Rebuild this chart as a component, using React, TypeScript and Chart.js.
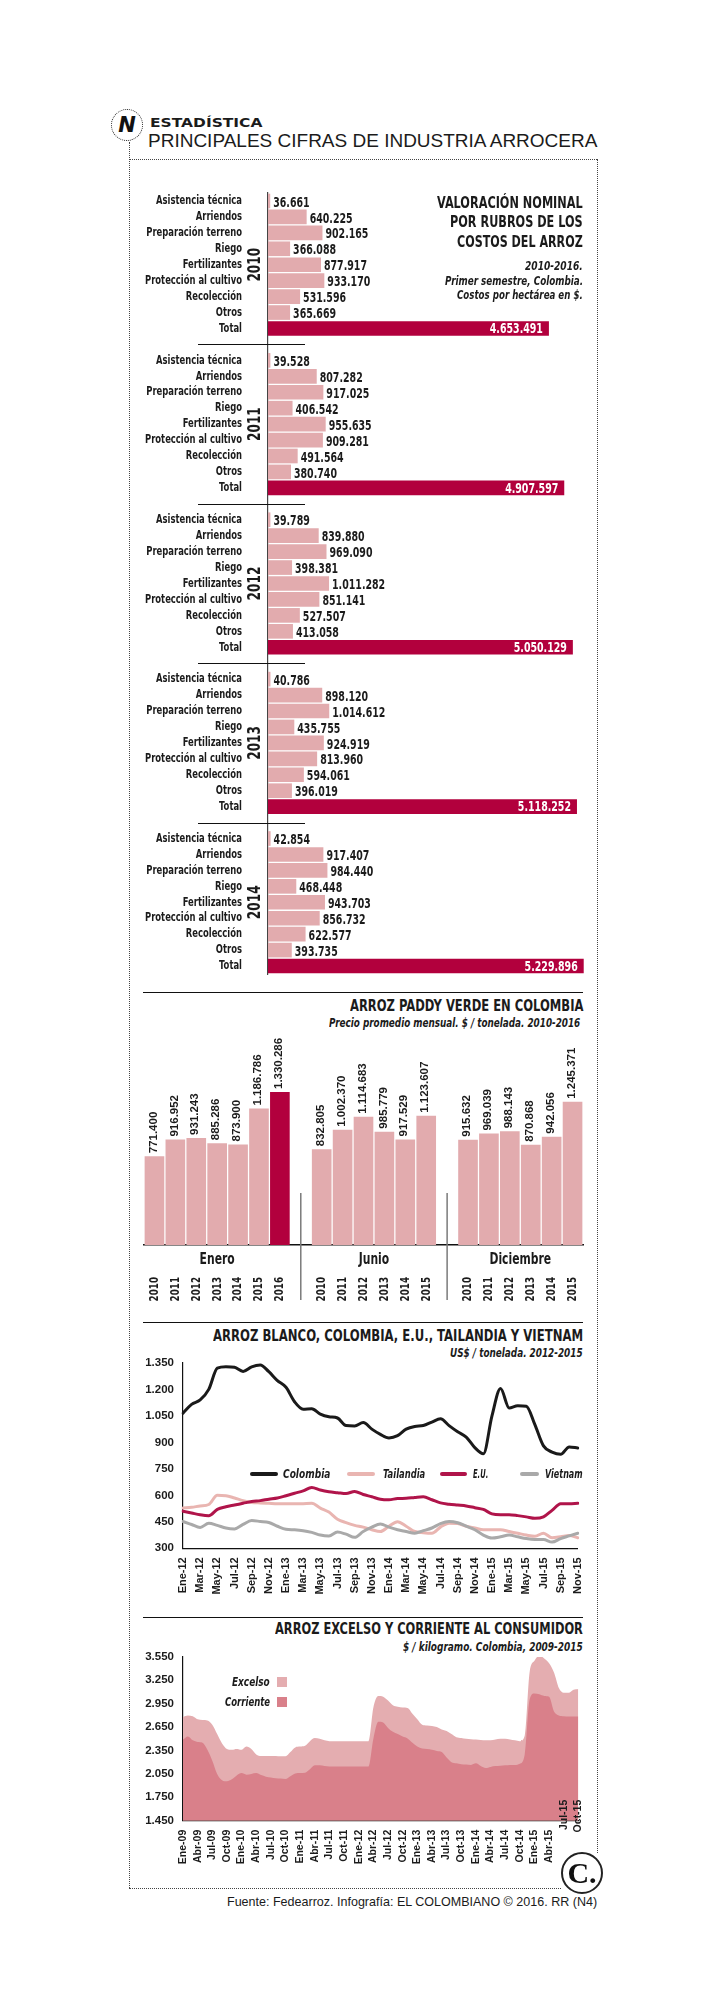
import React, { useEffect, useLayoutEffect, useRef } from 'react';
import { Chart, registerables } from 'chart.js';

Chart.register(...registerables);

const NARROW = "'Liberation Sans Narrow', 'Arial Narrow', 'DejaVu Sans Condensed', 'Liberation Sans', sans-serif";
const SANS = "'Liberation Sans', Arial, 'DejaVu Sans', sans-serif";

const INK = '#1b1b1b';
const PINK = '#e2abae';
const CRIMSON = '#b2003d';
const EXCELSO_COLOR = '#e4adb0';
const CORRIENTE_COLOR = '#d9808a';

// ---------- Panel 1: costos por rubro ----------
const COST_ITEMS = ['Asistencia técnica', 'Arriendos', 'Preparación terreno', 'Riego', 'Fertilizantes', 'Protección al cultivo', 'Recolección', 'Otros', 'Total'];
const COST_YEARS = ['2010', '2011', '2012', '2013', '2014'];
const COST_2010 = [36661, 640225, 902165, 366088, 877917, 933170, 531596, 365669, 4653491];
const COST_2011 = [39528, 807282, 917025, 406542, 955635, 909281, 491564, 380740, 4907597];
const COST_2012 = [39789, 839880, 969090, 398381, 1011282, 851141, 527507, 413058, 5050129];
const COST_2013 = [40786, 898120, 1014612, 435755, 924919, 813960, 594061, 396019, 5118252];
const COST_2014 = [42854, 917407, 984440, 468448, 943703, 856732, 622577, 393735, 5229896];
const COST_BY_YEAR = [COST_2010, COST_2011, COST_2012, COST_2013, COST_2014];

// ---------- Panel 2: arroz paddy verde ----------
const PADDY_GROUPS = ['Enero', 'Junio', 'Diciembre'];
const PADDY_YEARS_ENERO = ['2010', '2011', '2012', '2013', '2014', '2015', '2016'];
const PADDY_YEARS_JUNIO = ['2010', '2011', '2012', '2013', '2014', '2015'];
const PADDY_YEARS_DIC = ['2010', '2011', '2012', '2013', '2014', '2015'];
const PADDY_ENERO = [771400, 916952, 931243, 885286, 873900, 1186786, 1330286];
const PADDY_JUNIO = [832805, 1002370, 1114683, 985779, 917529, 1123607];
const PADDY_DIC = [915632, 969039, 988143, 870868, 942056, 1245371];

// ---------- Panel 3: arroz blanco ----------
const MESES = ['Ene', 'Feb', 'Mar', 'Abr', 'May', 'Jun', 'Jul', 'Ago', 'Sep', 'Oct', 'Nov', 'Dic'];
const WHITE_YEARS = ['12', '13', '14', '15'];
const WHITE_LAST_MONTH = 'Nov-15';
const COLOMBIA = [1065, 1115, 1140, 1200, 1320, 1328, 1325, 1302, 1328, 1338, 1300, 1250, 1212, 1130, 1088, 1090, 1060, 1045, 1038, 995, 993, 1012, 975, 945, 925, 938, 975, 990, 995, 1015, 1033, 995, 960, 930, 870, 835, 1050, 1205, 1095, 1108, 1105, 1000, 880, 845, 832, 874, 868];
const EU = [510, 500, 490, 485, 520, 535, 545, 555, 565, 570, 578, 585, 598, 612, 625, 645, 630, 620, 615, 610, 622, 605, 592, 578, 575, 582, 583, 588, 592, 575, 557, 550, 545, 540, 530, 520, 495, 490, 490, 485, 478, 470, 478, 515, 552, 553, 555];
const TAILANDIA = [528, 532, 540, 548, 600, 598, 585, 570, 560, 557, 555, 553, 552, 552, 553, 555, 528, 505, 465, 445, 430, 420, 405, 395, 425, 450, 425, 395, 388, 385, 420, 442, 440, 425, 415, 405, 405, 405, 395, 385, 375, 368, 385, 360, 365, 372, 360];
const VIETNAM = [452, 435, 418, 442, 430, 415, 410, 435, 457, 452, 446, 425, 408, 405, 400, 390, 375, 370, 392, 380, 362, 395, 420, 438, 420, 405, 395, 385, 400, 415, 440, 452, 445, 425, 405, 375, 358, 365, 375, 365, 355, 350, 350, 335, 355, 370, 385];

// ---------- Panel 4: excelso y corriente ----------
const RETAIL_YEARS = ['09', '10', '11', '12', '13', '14', '15'];
const RETAIL_LAST_MONTH = 'Oct-15';
const RETAIL_LATE_LABELS = ['Jul-15', 'Oct-15'];
const EXCELSO = [2780, 2800, 2790, 2750, 2740, 2735, 2680, 2560, 2440, 2370, 2360, 2370, 2360, 2400, 2370, 2300, 2280, 2280, 2280, 2280, 2275, 2275, 2330, 2390, 2400, 2410, 2470, 2510, 2500, 2480, 2470, 2470, 2470, 2470, 2470, 2470, 2470, 2470, 2470, 2900, 3050, 3040, 2990, 2930, 2910, 2900, 2895, 2820, 2750, 2680, 2670, 2665, 2650, 2620, 2600, 2560, 2520, 2510, 2500, 2495, 2490, 2485, 2480, 2480, 2490, 2500, 2500, 2490, 2480, 2470, 2540, 3350, 3500, 3570, 3530, 3470, 3350, 3150, 3090, 3090, 3130, 3140];
const CORRIENTE = [2490, 2530, 2480, 2460, 2450, 2360, 2220, 2050, 1970, 1955, 1980, 2030, 2060, 2040, 2050, 2060, 2035, 2015, 2005, 1995, 1990, 1985, 2020, 2055, 2060, 2065, 2110, 2160, 2160, 2150, 2145, 2145, 2145, 2145, 2145, 2145, 2145, 2145, 2145, 2500, 2720, 2710, 2640, 2590, 2560, 2530, 2505, 2450, 2400, 2375, 2370, 2360, 2345, 2330, 2260, 2200, 2185, 2175, 2170, 2165, 2185, 2150, 2125, 2140, 2150, 2155, 2160, 2165, 2165, 2180, 2300, 3000, 3080, 3070, 3050, 3040, 2850, 2800, 2790, 2785, 2785, 2785];

// ---------- helpers ----------
const fmt = (v: number) => String(Math.round(v)).replace(/\B(?=(\d{3})+(?!\d))/g, '.');

function monthLabels(years: string[], last: string) {
  const out: string[] = [];
  for (const y of years) {
    for (const m of MESES) {
      const l = `${m}-${y}`;
      out.push(l);
      if (l === last) return out;
    }
  }
  return out;
}
const WHITE_MONTHS = monthLabels(WHITE_YEARS, WHITE_LAST_MONTH);
const RETAIL_MONTHS = monthLabels(RETAIL_YEARS, RETAIL_LAST_MONTH);

// horizontal squeeze so that the fallback font behaves like a narrow face
let narrowSxCache: number | null = null;
function narrowSx(): number {
  if (narrowSxCache != null) return narrowSxCache;
  const c = document.createElement('canvas').getContext('2d') as CanvasRenderingContext2D;
  const s = 'Preparación terreno 0123456789';
  c.font = `bold 20px ${SANS}`;
  const a = c.measureText(s).width;
  c.font = `bold 20px ${NARROW}`;
  const b = c.measureText(s).width;
  narrowSxCache = Math.min(1, (0.82 * a) / b);
  return narrowSxCache;
}

function narrowText(ctx: CanvasRenderingContext2D, text: string, x: number, y: number, size: number, align: CanvasTextAlign, rotate = 0, weight = 'bold') {
  ctx.save();
  ctx.font = `${weight} ${size}px ${NARROW}`;
  ctx.textAlign = align;
  ctx.textBaseline = 'middle';
  ctx.translate(x, y);
  if (rotate) ctx.rotate(rotate);
  ctx.scale(narrowSx(), 1);
  ctx.fillText(text, 0, 0);
  ctx.restore();
}

// Panel 1 table
const costLabels: string[] = [];
const costData: (number | null)[] = [];
const costColors: string[] = [];
const costIsTotal: boolean[] = [];
COST_BY_YEAR.forEach((vals, k) => {
  vals.forEach((v, i) => {
    costLabels.push(COST_ITEMS[i]);
    costData.push(v);
    costColors.push(i === COST_ITEMS.length - 1 ? CRIMSON : PINK);
    costIsTotal.push(i === COST_ITEMS.length - 1);
  });
  if (k < COST_BY_YEAR.length - 1) {
    costLabels.push('');
    costData.push(null);
    costColors.push(PINK);
    costIsTotal.push(false);
  }
});

// Panel 2 table
const paddyLabels = [...PADDY_YEARS_ENERO, '', ...PADDY_YEARS_JUNIO, '', ...PADDY_YEARS_DIC];
const paddyData = [...PADDY_ENERO, null, ...PADDY_JUNIO, null, ...PADDY_DIC];
const paddyColors = paddyLabels.map((_, i) => (i === PADDY_YEARS_ENERO.length - 1 ? CRIMSON : PINK));
const paddyRanges: [number, number][] = [
  [0, PADDY_YEARS_ENERO.length - 1],
  [PADDY_YEARS_ENERO.length + 1, PADDY_YEARS_ENERO.length + PADDY_YEARS_JUNIO.length],
  [PADDY_YEARS_ENERO.length + PADDY_YEARS_JUNIO.length + 2, paddyLabels.length - 1],
];

// ---------- plugins ----------
const costPlugin = {
  id: 'costPlugin',
  afterDatasetsDraw(chart: any) {
    const { ctx, chartArea } = chart;
    const meta = chart.getDatasetMeta(0);
    const ys = chart.scales.y;
    ctx.save();
    ctx.fillStyle = INK;
    // category labels
    costLabels.forEach((l, i) => {
      if (!l) return;
      narrowText(ctx, l, chartArea.left - 26, ys.getPixelForValue(i), 12.5, 'right');
    });
    // values
    meta.data.forEach((bar: any, i: number) => {
      const v = costData[i];
      if (v == null) return;
      if (costIsTotal[i]) {
        ctx.fillStyle = '#fff';
        narrowText(ctx, fmt(v), bar.x - 6, bar.y + 1, 14, 'right');
      } else {
        ctx.fillStyle = INK;
        narrowText(ctx, fmt(v), bar.x + 3, bar.y + 2, 14, 'left');
      }
    });
    ctx.fillStyle = INK;
    COST_YEARS.forEach((yr, k) => {
      const start = k * (COST_ITEMS.length + 1);
      const cy = (ys.getPixelForValue(start) + ys.getPixelForValue(start + COST_ITEMS.length - 1)) / 2;
      narrowText(ctx, yr, chartArea.left - 13, cy, 18, 'center', -Math.PI / 2);
      if (k < COST_YEARS.length - 1) {
        const gy = Math.round(ys.getPixelForValue(start + COST_ITEMS.length)) + 0.5;
        ctx.strokeStyle = '#111';
        ctx.lineWidth = 1;
        ctx.beginPath();
        ctx.moveTo(chartArea.left - 70, gy);
        ctx.lineTo(chartArea.left + 37, gy);
        ctx.stroke();
      }
    });
    ctx.restore();
  },
};

const paddyPlugin = {
  id: 'paddyPlugin',
  afterDatasetsDraw(chart: any) {
    const { ctx, chartArea } = chart;
    const meta = chart.getDatasetMeta(0);
    const xs = chart.scales.x;
    ctx.save();
    ctx.font = `bold 11.5px ${SANS}`;
    ctx.fillStyle = INK;
    ctx.textAlign = 'left';
    ctx.textBaseline = 'middle';
    meta.data.forEach((bar: any, i: number) => {
      const v = paddyData[i];
      if (v == null) return;
      ctx.save();
      ctx.translate(bar.x - 1, bar.y - 3);
      ctx.rotate(-Math.PI / 2);
      ctx.fillText(fmt(v), 0, 0);
      ctx.restore();
    });
    // year labels
    paddyLabels.forEach((l, i) => {
      if (!l) return;
      narrowText(ctx, l, xs.getPixelForValue(i), chartArea.bottom + 32, 13, 'right', -Math.PI / 2);
    });
    ctx.strokeStyle = '#7a7a7a';
    ctx.lineWidth = 1.5;
    [PADDY_YEARS_ENERO.length, PADDY_YEARS_ENERO.length + PADDY_YEARS_JUNIO.length + 1].forEach((i) => {
      const x = xs.getPixelForValue(i);
      ctx.beginPath();
      ctx.moveTo(x, chartArea.bottom - 52);
      ctx.lineTo(x, chartArea.bottom + 55);
      ctx.stroke();
    });
    paddyRanges.forEach(([a, b], k) => {
      const x = (xs.getPixelForValue(a) + xs.getPixelForValue(b)) / 2;
      narrowText(ctx, PADDY_GROUPS[k], x, chartArea.bottom + 15, 16, 'center');
    });
    ctx.restore();
  },
};

const retailPlugin = {
  id: 'retailPlugin',
  afterDraw(chart: any) {
    const { ctx, chartArea } = chart;
    const xs = chart.scales.x;
    ctx.save();
    ctx.font = `bold 10.5px ${SANS}`;
    ctx.fillStyle = INK;
    ctx.textAlign = 'right';
    ctx.textBaseline = 'middle';
    RETAIL_LATE_LABELS.forEach((l) => {
      const i = RETAIL_MONTHS.indexOf(l);
      ctx.save();
      ctx.translate(xs.getPixelForValue(i), chartArea.bottom - 21);
      ctx.rotate(-Math.PI / 2);
      ctx.fillText(l, 0, 0);
      ctx.restore();
    });
    ctx.restore();
  },
};

// ---------- configs ----------
const costConfig = () => ({
  type: 'bar',
  data: {
    labels: costLabels,
    datasets: [{ data: costData, backgroundColor: costColors, borderWidth: 0, barPercentage: 1, categoryPercentage: 0.92 }],
  },
  options: {
    indexAxis: 'y',
    responsive: false,
    animation: false,
    devicePixelRatio: 1,
    layout: { padding: { top: 8, bottom: 11, right: 3, left: 0 } },
    plugins: { legend: { display: false }, tooltip: { enabled: false } },
    scales: {
      x: { display: false, min: 0, max: 5450000 },
      y: {
        grid: { display: false, drawTicks: false },
        border: { display: true, color: '#444', width: 1.2 },
        ticks: { display: false, padding: 0 },
        afterFit: (s: any) => { s.width = 138; },
      },
    },
  },
  plugins: [costPlugin],
});

const paddyConfig = () => ({
  type: 'bar',
  data: {
    labels: paddyLabels,
    datasets: [{ data: paddyData, backgroundColor: paddyColors, borderWidth: 0, barPercentage: 0.94, categoryPercentage: 1 }],
  },
  options: {
    responsive: false,
    animation: false,
    devicePixelRatio: 1,
    layout: { padding: { top: 19.5, bottom: 0, left: 14, right: 17 } },
    plugins: { legend: { display: false }, tooltip: { enabled: false } },
    scales: {
      x: {
        grid: { display: false, drawTicks: false },
        border: { display: true, color: '#111', width: 1.5 },
        ticks: { display: false, padding: 0 },
        afterFit: (s: any) => { s.height = 75; },
      },
      y: { display: false, min: 0, max: 1700000 },
    },
  },
  plugins: [paddyPlugin],
});

const axisTickFont = { family: SANS, size: 11.5, weight: 'bold' };

const whiteConfig = () => ({
  type: 'line',
  data: {
    labels: WHITE_MONTHS,
    datasets: [
      { label: 'Colombia', data: COLOMBIA, borderColor: '#1a1a1a' },
      { label: 'E.U.', data: EU, borderColor: '#b0144a' },
      { label: 'Vietnam', data: VIETNAM, borderColor: '#a9a9a9' },
      { label: 'Tailandia', data: TAILANDIA, borderColor: '#e9b5b1' },
    ].map((d) => ({ ...d, borderWidth: 3, pointRadius: 0, fill: false, tension: 0.25, cubicInterpolationMode: 'monotone', borderJoinStyle: 'round', borderCapStyle: 'round' })),
  },
  options: {
    responsive: false,
    animation: false,
    devicePixelRatio: 1,
    layout: { padding: { top: 0, bottom: 0, left: 0, right: 15 } },
    plugins: { legend: { display: false }, tooltip: { enabled: false } },
    scales: {
      x: {
        offset: false,
        grid: { display: false, drawTicks: false },
        border: { display: true, color: '#111', width: 1.2 },
        ticks: {
          autoSkip: false, minRotation: 90, maxRotation: 90, padding: 9, color: INK,
          font: { family: SANS, size: 11, weight: 'bold' },
          callback: (_v: any, i: number) => (i % 2 === 0 ? WHITE_MONTHS[i] : ''),
        },
        afterFit: (s: any) => { s.height = 51.7; },
      },
      y: {
        min: 300, max: 1350,
        grid: { display: false, drawTicks: false },
        border: { display: true, color: '#111', width: 1.2 },
        ticks: { stepSize: 150, padding: 9, color: INK, font: axisTickFont, callback: (v: any) => fmt(Number(v)) },
        afterFit: (s: any) => { s.width = 53; },
      },
    },
  },
});

const retailConfig = () => ({
  type: 'line',
  data: {
    labels: RETAIL_MONTHS,
    datasets: [
      { label: 'Corriente', data: CORRIENTE, backgroundColor: CORRIENTE_COLOR },
      { label: 'Excelso', data: EXCELSO, backgroundColor: EXCELSO_COLOR },
    ].map((d) => ({ ...d, borderWidth: 0, borderColor: 'rgba(0,0,0,0)', pointRadius: 0, fill: 'start', tension: 0.3, cubicInterpolationMode: 'monotone' })),
  },
  options: {
    responsive: false,
    animation: false,
    devicePixelRatio: 1,
    layout: { padding: { top: 0, bottom: 0, left: 0, right: 15 } },
    plugins: { legend: { display: false }, tooltip: { enabled: false } },
    scales: {
      x: {
        offset: false,
        grid: { display: false, drawTicks: false },
        border: { display: true, color: '#111', width: 1.2 },
        ticks: {
          autoSkip: false, minRotation: 90, maxRotation: 90, padding: 9, color: INK,
          font: { family: SANS, size: 10.5, weight: 'bold' },
          callback: (_v: any, i: number) => (i % 3 === 0 && i <= RETAIL_MONTHS.length - 7 ? RETAIL_MONTHS[i] : ''),
        },
        afterFit: (s: any) => { s.height = 69.3; },
      },
      y: {
        min: 1450, max: 3550,
        grid: { display: false, drawTicks: false },
        border: { display: true, color: '#111', width: 1.2 },
        ticks: { stepSize: 300, padding: 9, color: INK, font: axisTickFont, callback: (v: any) => fmt(Number(v)) },
        afterFit: (s: any) => { s.width = 53; },
      },
    },
  },
  plugins: [retailPlugin],
});

// ---------- components ----------
function ChartBox({ left, top, width, height, make }: { left: number; top: number; width: number; height: number; make: () => any }) {
  const ref = useRef<HTMLCanvasElement>(null);
  useEffect(() => {
    const chart = new Chart(ref.current as HTMLCanvasElement, make());
    return () => chart.destroy();
  }, []);
  return <canvas ref={ref} width={width} height={height} style={{ position: 'absolute', left, top, width, height }} />;
}

function Txt({ x1, x2, cy, size, text, weight = 'bold', italic = false, family = NARROW, color = INK }: any) {
  const ref = useRef<HTMLDivElement>(null);
  useLayoutEffect(() => {
    const el = ref.current;
    if (!el) return;
    const fit = () => {
      el.style.transform = 'none';
      const w = el.offsetWidth;
      if (w > 0) el.style.transform = `scaleX(${(x2 - x1) / w})`;
    };
    fit();
    const f: any = (document as any).fonts;
    if (f && f.ready) f.ready.then(fit);
  }, []);
  return (
    <div
      ref={ref}
      style={{
        position: 'absolute', left: x1, top: cy - 0.49 * size, fontFamily: family, fontSize: size,
        fontWeight: weight, fontStyle: italic ? 'italic' : 'normal', lineHeight: `${size}px`,
        whiteSpace: 'nowrap', color, transformOrigin: '0 0',
      }}
    >
      {text}
    </div>
  );
}

const Rule = ({ x1, x2, y }: { x1: number; x2: number; y: number }) => (
  <div style={{ position: 'absolute', left: x1, top: y, width: x2 - x1, height: 1, background: '#111' }} />
);

const dotted = '1px dotted #444';

export default function App() {
  return (
    <div style={{ position: 'absolute', left: 0, top: 0, width: 719, height: 2000, background: '#fff', overflow: 'hidden' }}>
      {/* frame */}
      <div style={{ position: 'absolute', left: 129, top: 159, width: 468, height: 0, borderTop: dotted }} />
      <div style={{ position: 'absolute', left: 129, top: 142, width: 0, height: 1746, borderLeft: dotted }} />
      <div style={{ position: 'absolute', left: 597, top: 159, width: 0, height: 1694, borderLeft: dotted }} />
      <div style={{ position: 'absolute', left: 129, top: 1888, width: 432, height: 0, borderTop: dotted }} />

      {/* N logo */}
      <div style={{ position: 'absolute', left: 111, top: 109, width: 30, height: 30, borderRadius: '50%', border: '1.5px dotted #222', background: '#fff', display: 'flex', alignItems: 'center', justifyContent: 'center', fontFamily: "'DejaVu Sans', sans-serif", fontWeight: 'bold', fontStyle: 'italic', fontSize: 21, color: '#111' }}>N</div>

      {/* header */}
      <Txt x1={150} x2={263} cy={124} size={11.5} weight={900} family="'DejaVu Sans', sans-serif" text="ESTADÍSTICA" />
      <Txt x1={148} x2={597} cy={140} size={19} weight="normal" family={SANS} text="PRINCIPALES CIFRAS DE INDUSTRIA ARROCERA" />

      {/* panel 1 */}
      <ChartBox left={130} top={185} width={470} height={800} make={costConfig} />
      <Txt x1={437} x2={583} cy={203} size={16.5} text="VALORACIÓN NOMINAL" />
      <Txt x1={450} x2={583} cy={222.5} size={16.5} text="POR RUBROS DE LOS" />
      <Txt x1={457} x2={583} cy={242} size={16.5} text="COSTOS DEL ARROZ" />
      <Txt x1={525} x2={583} cy={266} size={12} italic text="2010-2016." />
      <Txt x1={445} x2={583} cy={281} size={12} italic text="Primer semestre, Colombia." />
      <Txt x1={457} x2={583} cy={295} size={12} italic text="Costos por hectárea en $." />

      {/* panel 2 */}
      <Rule x1={143} x2={583} y={992} />
      <Txt x1={350} x2={583} cy={1007} size={15.5} text="ARROZ PADDY VERDE EN COLOMBIA" />
      <Txt x1={329} x2={580} cy={1023} size={12} italic text="Precio promedio mensual. $ / tonelada. 2010-2016" />
      <ChartBox left={130} top={1030} width={470} height={290} make={paddyConfig} />

      {/* panel 3 */}
      <Rule x1={143} x2={583} y={1322} />
      <Txt x1={213} x2={583} cy={1337} size={15.5} text="ARROZ BLANCO, COLOMBIA, E.U., TAILANDIA Y VIETNAM" />
      <Txt x1={450} x2={583} cy={1353} size={12} italic text="US$ / tonelada. 2012-2015" />
      <ChartBox left={130} top={1347} width={470} height={253} make={whiteConfig} />
      <div style={{ position: 'absolute', left: 250, top: 1472, width: 28, height: 4, borderRadius: 2, background: '#1a1a1a' }} />
      <Txt x1={283} x2={330} cy={1474} size={12} italic text="Colombia" />
      <div style={{ position: 'absolute', left: 347, top: 1472, width: 28, height: 4, borderRadius: 2, background: '#e9b5b1' }} />
      <Txt x1={383} x2={425} cy={1474} size={12} italic text="Tailandia" />
      <div style={{ position: 'absolute', left: 440, top: 1472, width: 27, height: 4, borderRadius: 2, background: '#b0144a' }} />
      <Txt x1={473} x2={488} cy={1474} size={12} italic text="E.U." />
      <div style={{ position: 'absolute', left: 520, top: 1472, width: 19, height: 4, borderRadius: 2, background: '#a9a9a9' }} />
      <Txt x1={545} x2={583} cy={1474} size={12} italic text="Vietnam" />

      {/* panel 4 */}
      <Rule x1={143} x2={583} y={1617} />
      <Txt x1={275} x2={583} cy={1630} size={15.5} text="ARROZ EXCELSO Y CORRIENTE AL CONSUMIDOR" />
      <Txt x1={403} x2={583} cy={1647} size={12} italic text="$ / kilogramo. Colombia, 2009-2015" />
      <ChartBox left={130} top={1641} width={470} height={249} make={retailConfig} />
      <Txt x1={232} x2={270} cy={1682} size={12} italic text="Excelso" />
      <div style={{ position: 'absolute', left: 277, top: 1677, width: 10, height: 10, background: EXCELSO_COLOR }} />
      <Txt x1={225} x2={270} cy={1702} size={12} italic text="Corriente" />
      <div style={{ position: 'absolute', left: 277, top: 1697, width: 10, height: 10, background: CORRIENTE_COLOR }} />

      {/* C logo */}
      <div style={{ position: 'absolute', left: 561, top: 1852, width: 38, height: 38, borderRadius: '50%', border: '2px solid #222', background: '#fff', display: 'flex', alignItems: 'center', justifyContent: 'center', fontFamily: "'Liberation Serif', 'DejaVu Serif', serif", fontWeight: 'bold', fontSize: 30, color: '#111', lineHeight: '30px' }}>C.</div>

      {/* footer */}
      <Txt x1={227} x2={597} cy={1901} size={13} weight="normal" family={SANS} text="Fuente: Fedearroz. Infografía: EL COLOMBIANO © 2016. RR (N4)" />
    </div>
  );
}
